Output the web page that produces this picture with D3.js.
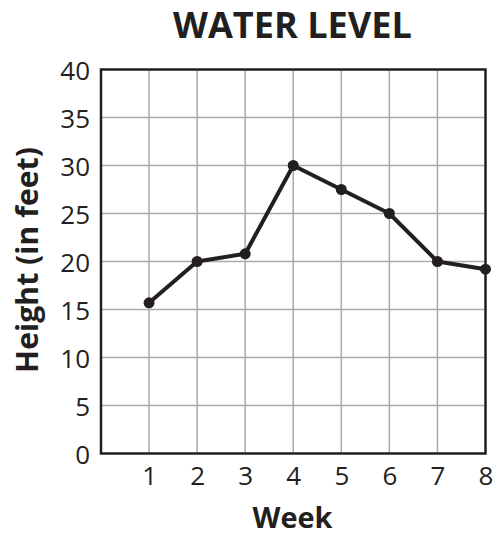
<!DOCTYPE html>
<html>
<head>
<meta charset="utf-8">
<script src="https://cdn.jsdelivr.net/npm/d3@7"></script>
<style>
  html, body { margin: 0; padding: 0; background: #fff; }
  svg { display: block; }
  text { font-family: "Open Sans", "Noto Sans", sans-serif; fill: #231f20; }
</style>
</head>
<body>
<svg id="chart" width="495" height="535"></svg>
<script>
const weeks = [1, 2, 3, 4, 5, 6, 7, 8];
const heights = [15.7, 20, 20.8, 30, 27.5, 25, 20, 19.2];
const xTicks = [1, 2, 3, 4, 5, 6, 7, 8];
const yTicks = [0, 5, 10, 15, 20, 25, 30, 35, 40];
const titleText = "WATER LEVEL";
const xLabelText = "Week";
const yLabelText = "Height (in feet)";

const svg = d3.select("#chart");
const margin = { left: 101, right: 9.5, top: 69.5, bottom: 81.5 };
const W = 495, H = 535;

const x = d3.scaleLinear().domain([0, 8]).range([margin.left, W - margin.right]);
const y = d3.scaleLinear().domain([0, 40]).range([H - margin.bottom, margin.top]);

// grid
const grid = svg.append("g");
grid.selectAll("line.v").data(d3.range(1, 8)).join("line")
  .attr("x1", d => x(d)).attr("x2", d => x(d))
  .attr("y1", y(0)).attr("y2", y(40))
  .attr("stroke", "#aaaaaa").attr("stroke-width", 1.5);
grid.selectAll("line.h").data(yTicks.slice(1, -1)).join("line")
  .attr("y1", d => y(d)).attr("y2", d => y(d))
  .attr("x1", x(0)).attr("x2", x(8))
  .attr("stroke", "#aaaaaa").attr("stroke-width", 1.5);

// frame
svg.append("rect")
  .attr("x", x(0)).attr("y", y(40))
  .attr("width", x(8) - x(0)).attr("height", y(0) - y(40))
  .attr("fill", "none").attr("stroke", "#231f20").attr("stroke-width", 2.5);

// tick labels
const xAxis = d3.axisBottom(x).tickValues(xTicks).tickSize(0).tickPadding(0);
const gx = svg.append("g").attr("transform", `translate(0,${y(0)})`).call(xAxis);
gx.select(".domain").remove();
gx.selectAll("text").attr("y", 0).attr("dy", null)
  .attr("transform", "translate(0,31.5)")
  .style("font-size", "26px").style("font-family", '"Open Sans", sans-serif').attr("fill", "#231f20");

const yAxis = d3.axisLeft(y).tickValues(yTicks).tickSize(0).tickPadding(0);
const gy = svg.append("g").attr("transform", `translate(${x(0) - 11},0)`).call(yAxis);
gy.select(".domain").remove();
gy.selectAll("text").attr("x", 0).attr("dy", null)
  .attr("transform", "translate(0,9.5)")
  .style("font-size", "26px").style("font-family", '"Open Sans", sans-serif').attr("fill", "#231f20");

// line + points
const line = d3.line().x((d, i) => x(weeks[i])).y(d => y(d));
svg.append("path").datum(heights)
  .attr("d", line).attr("fill", "none")
  .attr("stroke", "#231f20").attr("stroke-width", 4).attr("stroke-linejoin", "round");
svg.selectAll("circle.pt").data(heights).join("circle")
  .attr("cx", (d, i) => x(weeks[i])).attr("cy", d => y(d)).attr("r", 5.5)
  .attr("fill", "#231f20");

function fitText(sel, targetWidth) {
  sel.style("font-size", "100px");
  const w = sel.node().getComputedTextLength();
  sel.style("font-size", (100 * targetWidth / w) + "px");
}

const title = svg.append("text").attr("x", 292.5).attr("y", 37.5)
  .attr("text-anchor", "middle").attr("font-weight", "bold").text(titleText);
fitText(title, 239);

const xl = svg.append("text").attr("x", 292.5).attr("y", 528)
  .attr("text-anchor", "middle").attr("font-weight", "bold").text(xLabelText);
fitText(xl, 80);

const yl = svg.append("text").attr("transform", "translate(38,260) rotate(-90)")
  .attr("text-anchor", "middle").attr("font-weight", "bold").text(yLabelText);
fitText(yl, 226);
</script>
</body>
</html>
